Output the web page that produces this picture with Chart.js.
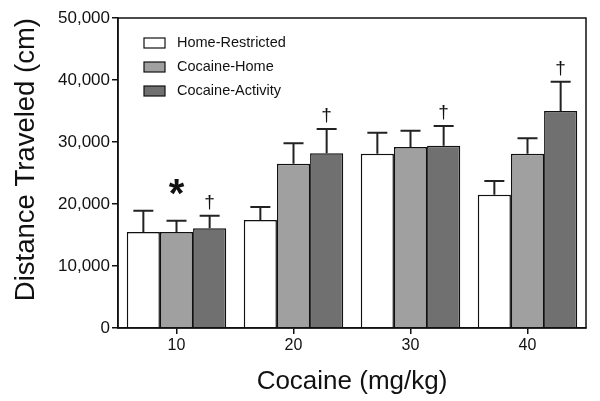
<!DOCTYPE html>
<html>
<head>
<meta charset="utf-8">
<script src="https://cdn.jsdelivr.net/npm/chart.js@4"></script>
<style>
  html, body { margin: 0; padding: 0; background: #fff; }
  #wrap { width: 600px; height: 401px; }
</style>
</head>
<body>
<div id="wrap"><canvas id="distChart" width="600" height="401"></canvas></div>
<script>
// doses on the x axis
const doses = ['10', '20', '30', '40'];

// group means (cm)
const homeRestricted = [15500, 17400, 28100, 21500];
const cocaineHome = [15500, 26500, 29200, 28100];
const cocaineActivity = [16100, 28200, 29400, 35000];

// upper error (SEM) for each bar
const homeRestrictedErr = [3400, 2100, 3400, 2200];
const cocaineHomeErr = [1800, 3300, 2600, 2500];
const cocaineActivityErr = [2000, 3900, 3200, 4700];

// significance marks over the bars
const homeRestrictedMarks = ['', '', '', ''];
const cocaineHomeMarks = ['*', '', '', ''];
const cocaineActivityMarks = ['\u2020', '\u2020', '\u2020', '\u2020'];

const yTicks = [0, 10000, 20000, 30000, 40000, 50000];

const errs = [homeRestrictedErr, cocaineHomeErr, cocaineActivityErr];
const marks = [homeRestrictedMarks, cocaineHomeMarks, cocaineActivityMarks];

const fontFam = '"Liberation Sans", Arial, sans-serif';

const errorBarPlugin = {
  id: 'errorBars',
  afterDatasetsDraw(chart) {
    const ctx = chart.ctx;
    const y = chart.scales.y;
    chart.data.datasets.forEach(function(ds, i) {
      const meta = chart.getDatasetMeta(i);
      meta.data.forEach(function(bar, j) {
        const top = y.getPixelForValue(ds.data[j] + errs[i][j]);
        const base = y.getPixelForValue(ds.data[j]);
        ctx.save();
        ctx.strokeStyle = '#222';
        ctx.lineWidth = 2;
        ctx.beginPath();
        ctx.moveTo(bar.x, base);
        ctx.lineTo(bar.x, top);
        ctx.moveTo(bar.x - 10, top);
        ctx.lineTo(bar.x + 10, top);
        ctx.stroke();
        const m = marks[i][j];
        if (m === '*') {
          ctx.fillStyle = '#111';
          ctx.font = 'bold 40px ' + fontFam;
          ctx.textAlign = 'center';
          ctx.textBaseline = 'middle';
          ctx.fillText('*', bar.x, top - 25);
        } else if (m) {
          ctx.fillStyle = '#111';
          ctx.font = '19px ' + fontFam;
          ctx.textAlign = 'center';
          ctx.textBaseline = 'alphabetic';
          ctx.fillText(m, bar.x, top - 8);
        }
        ctx.restore();
      });
    });
  }
};

// frame + legend drawn inside the plot area
const framePlugin = {
  id: 'frame',
  afterDraw(chart) {
    const ctx = chart.ctx;
    const a = chart.chartArea;
    ctx.save();
    ctx.strokeStyle = '#111';
    ctx.lineWidth = 1.5;
    ctx.strokeRect(a.left, a.top, a.right - a.left, a.bottom - a.top);
    chart.data.datasets.forEach(function(ds, i) {
      const ly = a.top + 25 + i * 24;
      ctx.fillStyle = ds.backgroundColor;
      ctx.fillRect(a.left + 26, ly - 5, 21, 10);
      ctx.lineWidth = 1.2;
      ctx.strokeRect(a.left + 26, ly - 5, 21, 10);
      ctx.fillStyle = '#111';
      ctx.font = '14.5px ' + fontFam;
      ctx.textAlign = 'left';
      ctx.textBaseline = 'middle';
      ctx.fillText(ds.label, a.left + 59, ly);
    });
    ctx.restore();
  }
};

const ctx = document.getElementById('distChart').getContext('2d');
new Chart(ctx, {
  type: 'bar',
  data: {
    labels: doses,
    datasets: [
      { label: 'Home-Restricted', data: homeRestricted, backgroundColor: '#ffffff', borderColor: '#111', borderWidth: 1.5 },
      { label: 'Cocaine-Home', data: cocaineHome, backgroundColor: '#a0a0a0', borderColor: '#111', borderWidth: 1.5 },
      { label: 'Cocaine-Activity', data: cocaineActivity, backgroundColor: '#707070', borderColor: '#111', borderWidth: 1.5 }
    ]
  },
  options: {
    responsive: false,
    animation: false,
    layout: { padding: { left: 0, right: 14, top: 18, bottom: 0 } },
    datasets: { bar: { categoryPercentage: 0.85, barPercentage: 1.0 } },
    plugins: {
      legend: { display: false },
      tooltip: { enabled: false }
    },
    scales: {
      x: {
        grid: { display: true, drawOnChartArea: false, offset: false, color: '#111', lineWidth: 1.5, tickLength: 6 },
        border: { color: '#111', width: 1.5 },
        ticks: { color: '#111', font: { family: fontFam, size: 16 }, padding: 2 },
        title: { display: true, text: 'Cocaine (mg/kg)', color: '#111', font: { family: fontFam, size: 26 }, padding: { top: 4 } },
        afterFit(s) { s.height = 73; }
      },
      y: {
        min: 0,
        max: 50000,
        afterBuildTicks(s) { s.ticks = yTicks.map(v => ({ value: v })); },
        grid: { display: true, drawOnChartArea: false, color: '#111', lineWidth: 1.5, tickLength: 6 },
        border: { color: '#111', width: 1.5 },
        ticks: {
          color: '#111',
          font: { family: fontFam, size: 17 },
          padding: 2,
          callback: v => v.toLocaleString('en-US')
        },
        title: { display: true, align: 'end', text: 'Distance Traveled (cm)', color: '#111', font: { family: fontFam, size: 27.5 }, padding: { top: 10, bottom: 0 } },
        afterFit(s) { s.width = 118; }
      }
    }
  },
  plugins: [errorBarPlugin, framePlugin]
});
</script>
</body>
</html>
